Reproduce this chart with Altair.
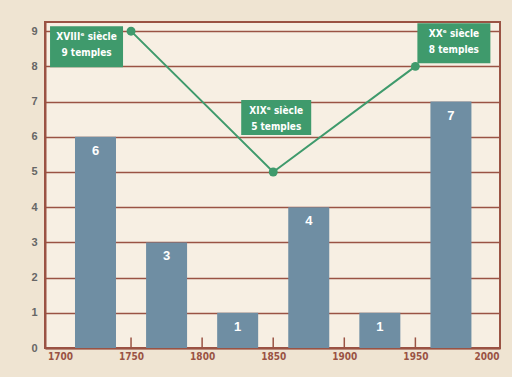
import altair as alt
import pandas as pd

# Bars: number per half-century
bar_start = [1700, 1750, 1800, 1850, 1900, 1950]
bar_end = [1750, 1800, 1850, 1900, 1950, 2000]
bar_values = [6, 3, 1, 4, 1, 7]

# Line: temples per century
line_years = [1750, 1850, 1950]
line_values = [9, 5, 8]
line_title = ["XVIIIᵉ siècle", "XIXᵉ siècle", "XXᵉ siècle"]
line_sub = ["9 temples", "5 temples", "8 temples"]

tick_years = [1750, 1800, 1850, 1900, 1950]
x_labels = [1700, 1750, 1800, 1850, 1900, 1950, 2000]
y_ticks = [0, 1, 2, 3, 4, 5, 6, 7, 8, 9]

BROWN = "#9a5344"
BAR = "#6f8ea3"
GREEN = "#3f9a6c"

bars = pd.DataFrame({"x": bar_start, "x2": bar_end, "v": bar_values})
bars["mid"] = (bars["x"] + bars["x2"]) / 2
line = pd.DataFrame({"year": line_years, "v": line_values, "t1": line_title, "t2": line_sub})
ticks = pd.DataFrame({"year": tick_years})

xs = alt.Scale(domain=[1693, 2006], nice=False, zero=False)
ys = alt.Scale(domain=[0, 9.26], nice=False, zero=False)

xaxis = alt.Axis(values=x_labels, format="d", title=None, ticks=False, grid=False,
                 domainColor=BROWN, domainWidth=2, labelColor=BROWN, labelFontSize=10,
                 labelFontWeight="bold", labelPadding=3, labelFont="DejaVu Sans Condensed",
                 labelOverlap=False)
yaxis = alt.Axis(values=y_ticks, title=None, ticks=False, grid=True, gridColor=BROWN,
                 gridWidth=1.5, domainColor=BROWN, domainWidth=2, labelColor="#666",
                 labelFontSize=11, labelFontWeight="bold", labelPadding=8, labelOverlap=False)

X = lambda f: alt.X(f, scale=xs, axis=xaxis)
Y = lambda f: alt.Y(f, scale=ys, axis=yaxis)

base_bars = alt.Chart(bars)
bar_layer = base_bars.mark_bar(color=BAR, width=41).encode(x=X("mid:Q"), y=Y("v:Q"))
bar_text = base_bars.mark_text(color="white", fontSize=13, fontWeight="bold", dy=14).encode(
    x=X("mid:Q"), y=Y("v:Q"), text="v:Q"
)

tick_layer = alt.Chart(ticks).mark_rule(color=BROWN, strokeWidth=1.5).encode(
    x=X("year:Q"), y=alt.YDatum(0, scale=ys, axis=yaxis), y2=alt.Y2Datum(0.3)
)

line_layer = alt.Chart(line).mark_line(color=GREEN, strokeWidth=2).encode(x=X("year:Q"), y=Y("v:Q"))
pts = alt.Chart(line).mark_circle(color=GREEN, size=80, opacity=1).encode(x=X("year:Q"), y=Y("v:Q"))

# annotation box offsets relative to each point (styling)
box_off = {
    1750: (-81, -8, -5, 36),
    1850: (-32, 38, -72, -37),
    1950: (2, 75, -43, -3),
}
ann_layers = []
for yr, (x0, x1, y0, y1) in box_off.items():
    src = alt.Chart(line).transform_filter(alt.datum.year == yr)
    enc = dict(x=X("year:Q"), y=Y("v:Q"))
    ann_layers.append(src.mark_rect(color=GREEN, xOffset=x0, x2Offset=x1, yOffset=y0, y2Offset=y1).encode(
        x=X("year:Q"), x2="year:Q", y=Y("v:Q"), y2="v:Q"))
    cx = (x0 + x1) / 2
    ann_layers.append(src.mark_text(color="white", fontSize=10, fontWeight="bold",
                                    font="DejaVu Sans Condensed", dx=cx, dy=y0 + 11).encode(text="t1:N", **enc))
    ann_layers.append(src.mark_text(color="white", fontSize=10, fontWeight="bold",
                                    font="DejaVu Sans Condensed", dx=cx, dy=y0 + 27).encode(text="t2:N", **enc))

chart = alt.layer(bar_layer, tick_layer, line_layer, pts, bar_text, *ann_layers).properties(
    width=455, height=326,
    autosize=alt.AutoSizeParams(type="none"),
    padding={"left": 45, "top": 22, "right": 12, "bottom": 29},
    background="#efe4d2",
).configure_view(fill="#f7efe3", stroke=BROWN, strokeWidth=2)

chart.save("out.html", embed_options={"renderer": "svg", "actions": False})
